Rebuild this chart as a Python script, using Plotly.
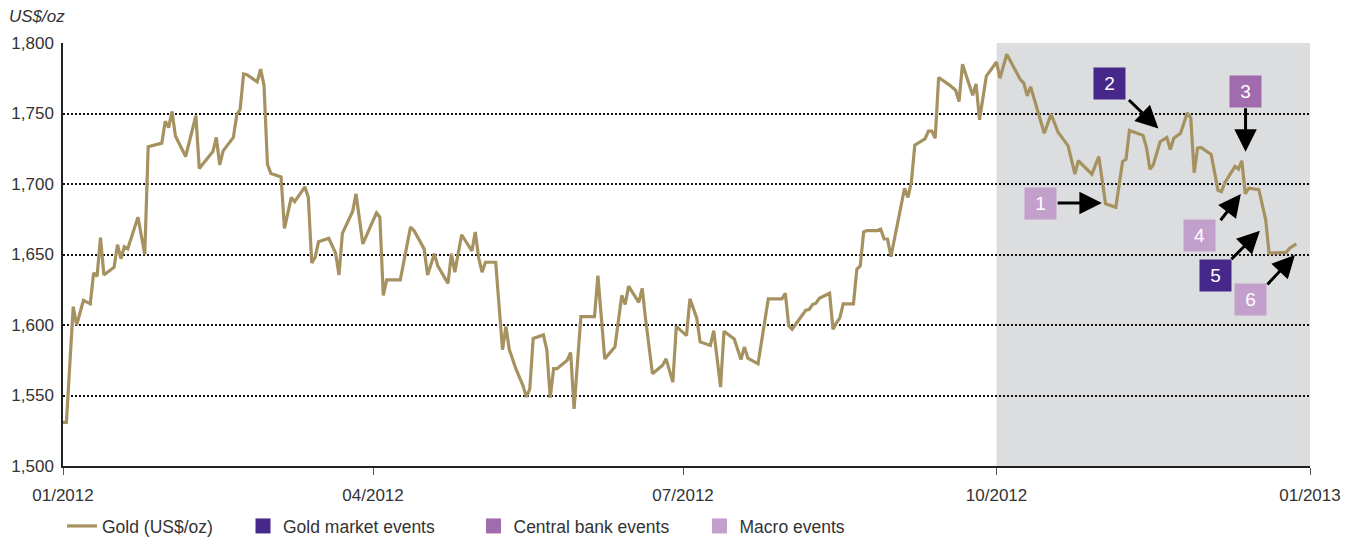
import plotly.graph_objects as go

# ---------------- data ----------------
dates = [
    "2012-01-01", "2012-01-02", "2012-01-04", "2012-01-05", "2012-01-07", "2012-01-09", "2012-01-10",
    "2012-01-11", "2012-01-12", "2012-01-13", "2012-01-16", "2012-01-17", "2012-01-18", "2012-01-19",
    "2012-01-20", "2012-01-23", "2012-01-25", "2012-01-26", "2012-01-30", "2012-01-31", "2012-02-01",
    "2012-02-02", "2012-02-03", "2012-02-06", "2012-02-09", "2012-02-10", "2012-02-14", "2012-02-15",
    "2012-02-16", "2012-02-17", "2012-02-20", "2012-02-21", "2012-02-22", "2012-02-23", "2012-02-24",
    "2012-02-27", "2012-02-28", "2012-02-29", "2012-03-01", "2012-03-02", "2012-03-05", "2012-03-06",
    "2012-03-08", "2012-03-09", "2012-03-12", "2012-03-13", "2012-03-14", "2012-03-15", "2012-03-16",
    "2012-03-19", "2012-03-21", "2012-03-22", "2012-03-23", "2012-03-26", "2012-03-27", "2012-03-29",
    "2012-04-02", "2012-04-03", "2012-04-04", "2012-04-05", "2012-04-09", "2012-04-10", "2012-04-12",
    "2012-04-13", "2012-04-16", "2012-04-17", "2012-04-19", "2012-04-20", "2012-04-23", "2012-04-24",
    "2012-04-25", "2012-04-27", "2012-04-30", "2012-05-01", "2012-05-02", "2012-05-03", "2012-05-04",
    "2012-05-07", "2012-05-09", "2012-05-10", "2012-05-11", "2012-05-13", "2012-05-15", "2012-05-16",
    "2012-05-17", "2012-05-18", "2012-05-21", "2012-05-22", "2012-05-23", "2012-05-24", "2012-05-25",
    "2012-05-28", "2012-05-29", "2012-05-30", "2012-06-01", "2012-06-05", "2012-06-06", "2012-06-08",
    "2012-06-11", "2012-06-13", "2012-06-14", "2012-06-15", "2012-06-18", "2012-06-19", "2012-06-20",
    "2012-06-22", "2012-06-25", "2012-06-26", "2012-06-28", "2012-06-29", "2012-07-02", "2012-07-03",
    "2012-07-05", "2012-07-06", "2012-07-09", "2012-07-10", "2012-07-12", "2012-07-13", "2012-07-16",
    "2012-07-18", "2012-07-19", "2012-07-20", "2012-07-23", "2012-07-26", "2012-07-30", "2012-07-31",
    "2012-08-01", "2012-08-02", "2012-08-04", "2012-08-06", "2012-08-07", "2012-08-08", "2012-08-09",
    "2012-08-10", "2012-08-13", "2012-08-14", "2012-08-15", "2012-08-16", "2012-08-17", "2012-08-20",
    "2012-08-21", "2012-08-22", "2012-08-23", "2012-08-24", "2012-08-27", "2012-08-28", "2012-08-29",
    "2012-08-30", "2012-08-31", "2012-09-02", "2012-09-04", "2012-09-05", "2012-09-06", "2012-09-07",
    "2012-09-08", "2012-09-10", "2012-09-11", "2012-09-12", "2012-09-13", "2012-09-14", "2012-09-17",
    "2012-09-19", "2012-09-20", "2012-09-21", "2012-09-24", "2012-09-25", "2012-09-26", "2012-09-27",
    "2012-09-28", "2012-10-01", "2012-10-02", "2012-10-04", "2012-10-08", "2012-10-09", "2012-10-10",
    "2012-10-11", "2012-10-15", "2012-10-17", "2012-10-19", "2012-10-22", "2012-10-24", "2012-10-25",
    "2012-10-29", "2012-10-31", "2012-11-02", "2012-11-05", "2012-11-07", "2012-11-08", "2012-11-09",
    "2012-11-13", "2012-11-14", "2012-11-15", "2012-11-16", "2012-11-18", "2012-11-20", "2012-11-21",
    "2012-11-22", "2012-11-24", "2012-11-26", "2012-11-27", "2012-11-28", "2012-11-29", "2012-11-30",
    "2012-12-03", "2012-12-05", "2012-12-06", "2012-12-07", "2012-12-10", "2012-12-11", "2012-12-12",
    "2012-12-13", "2012-12-14", "2012-12-17", "2012-12-19", "2012-12-20", "2012-12-25", "2012-12-26",
    "2012-12-28",
]

gold = [
    1531, 1531, 1613, 1600, 1617.5, 1615, 1637,
    1634.5, 1662, 1635.5, 1641, 1657, 1647, 1655.5,
    1654, 1676.5, 1650, 1726.5, 1729, 1744.5, 1740,
    1751.5, 1734, 1719.5, 1748.5, 1711, 1723, 1733,
    1713.5, 1723.5, 1733, 1749, 1753, 1778, 1777.5,
    1772.5, 1781.5, 1770, 1714, 1707.5, 1705, 1668.5,
    1690.5, 1687.5, 1698, 1690.5, 1644, 1648, 1659,
    1661.5, 1651, 1635.5, 1665, 1680.5, 1693, 1657.5,
    1679.5, 1676.5, 1621, 1632, 1632, 1644, 1669.5,
    1667, 1654, 1635.5, 1650.5, 1642, 1629.5, 1650.5,
    1637.5, 1664, 1652.5, 1666, 1647.5, 1637.5, 1644.5,
    1644.5, 1582.5, 1599, 1582.5, 1568.5, 1557, 1549,
    1554.5, 1590.5, 1593, 1582.5, 1548.5, 1569, 1569,
    1575, 1580.5, 1540.5, 1606, 1606, 1635, 1576,
    1584.5, 1621, 1614.5, 1627.5, 1616, 1626, 1604,
    1565.5, 1571.5, 1576, 1559.5, 1599, 1592.5, 1618.5,
    1605, 1588, 1585.5, 1596, 1556, 1595.5, 1590,
    1575.5, 1584.5, 1576.5, 1572.5, 1618.5, 1618.5, 1622.5,
    1599.5, 1597, 1604, 1610.5, 1611, 1614.5, 1615.5,
    1619, 1622.5, 1597, 1601.5, 1605, 1615, 1615,
    1639.5, 1642, 1666, 1667, 1667, 1668, 1661,
    1661, 1648.5, 1673.5, 1697, 1690.5, 1701.5, 1727.5,
    1729, 1732, 1737.5, 1737.5, 1732.5, 1775.5, 1770.5,
    1766.5, 1758.5, 1785, 1763, 1771, 1745.5, 1763,
    1776.5, 1786.5, 1775, 1792, 1774, 1771.5, 1762.5,
    1769, 1736, 1749.5, 1737, 1727, 1707, 1716.5,
    1707, 1719.5, 1686, 1683.5, 1716, 1717.5, 1738,
    1734.5, 1726, 1710.5, 1713.5, 1730, 1733, 1724.5,
    1732.5, 1736, 1750.5, 1747, 1708, 1725.5, 1726,
    1721, 1695.5, 1694.5, 1701, 1712.5, 1710.5, 1716.5,
    1693, 1697, 1696, 1674.5, 1651, 1651.5, 1654.5,
    1657.5,
]

# highlighted period (Q4 2012)
shade_start = "2012-10-01"
shade_end = "2013-01-01"

# events: label, type, box position, arrow tail, arrow head
event_labels = ["1", "2", "3", "4", "5", "6"]
event_types = ["Macro events", "Gold market events", "Central bank events",
               "Macro events", "Gold market events", "Macro events"]
event_box_x = ["2012-10-13 22:00", "2012-11-03 05:00", "2012-12-13 00:00",
               "2012-11-29 14:00", "2012-12-04 05:00", "2012-12-14 12:00"]
event_box_y = [1686.5, 1771, 1765.6, 1663.6, 1635.3, 1618.1]
arrow_tail_x = ["2012-10-18 12:00", "2012-11-08 10:00", "2012-12-13 02:00",
                "2012-12-05 10:00", "2012-12-08 12:00", "2012-12-19 02:00"]
arrow_tail_y = [1686.5, 1760.6, 1754.7, 1673.2, 1645.6, 1627.7]
arrow_head_x = ["2012-10-31 22:00", "2012-11-17 12:00", "2012-12-13 02:00",
                "2012-12-11 17:00", "2012-12-17 07:00", "2012-12-27 14:00"]
arrow_head_y = [1686.5, 1739.4, 1722.8, 1692.9, 1666.9, 1649.6]

legend_types = ["Gold market events", "Central bank events", "Macro events"]
type_colors = {"Gold market events": "#46288A",
               "Central bank events": "#A06CAD",
               "Macro events": "#C3A0CC"}

y_ticks = [1500, 1550, 1600, 1650, 1700, 1750, 1800]
y_ticktext = ["1,500", "1,550", "1,600", "1,650", "1,700", "1,750", "1,800"]

GOLD = "#A69260"
FONT = "Liberation Sans, Arial, Helvetica, sans-serif"
TXT = "#333333"

# ---------------- figure ----------------
fig = go.Figure()

fig.add_trace(go.Scatter(
    x=dates, y=gold, mode="lines", name="Gold (US$/oz)",
    line=dict(color=GOLD, width=3.2),
    legendwidth=136,
))

lw = {"Gold market events": 185.5, "Central bank events": 181, "Macro events": 120}
for t in legend_types:
    fig.add_trace(go.Scatter(
        x=[None], y=[None], mode="markers", name=t,
        marker=dict(symbol="square", size=15, color=type_colors[t], line=dict(width=0)),
        legendwidth=lw[t],
    ))

fig.add_shape(type="rect", xref="x", yref="paper",
              x0=shade_start, x1=shade_end, y0=0, y1=1,
              fillcolor="#DCDDDF", line=dict(width=0), layer="below")

# arrows
for i in range(len(event_labels)):
    fig.add_annotation(
        x=arrow_head_x[i], y=arrow_head_y[i], ax=arrow_tail_x[i], ay=arrow_tail_y[i],
        xref="x", yref="y", axref="x", ayref="y",
        text="", showarrow=True, arrowhead=2, arrowsize=1.5, arrowwidth=3,
        arrowcolor="#000000", standoff=0, startstandoff=0,
    )
# boxes
for i in range(len(event_labels)):
    fig.add_annotation(
        x=event_box_x[i], y=event_box_y[i], xref="x", yref="y",
        text=event_labels[i], showarrow=False,
        bgcolor=type_colors[event_types[i]], width=30, height=30, borderpad=0.5,
        font=dict(family=FONT, size=19, color="#FFFFFF"),
        xanchor="center", yanchor="middle", align="center", valign="middle",
    )

fig.add_annotation(
    x=-0.045, y=1.0615, xref="paper", yref="paper",
    text="<i>US$/oz</i>", showarrow=False, xanchor="left", yanchor="middle",
    font=dict(family=FONT, size=17, color=TXT),
)

fig.update_layout(
    width=1360, height=539,
    margin=dict(l=55, r=58, t=35, b=81, autoexpand=False),
    paper_bgcolor="#FFFFFF", plot_bgcolor="#FFFFFF",
    font=dict(family=FONT, size=17, color=TXT),
    showlegend=True,
    legend=dict(orientation="h", x=-0.0008, xanchor="left", y=-0.142, yanchor="middle",
                font=dict(family=FONT, size=17.5, color=TXT),
                itemsizing="trace", tracegroupgap=0, bgcolor="rgba(0,0,0,0)"),
    xaxis=dict(
        type="date", range=["2012-01-01", "2013-01-01"],
        dtick="M3", tick0="2012-01-01", tickformat="%m/%Y",
        showgrid=False, zeroline=False,
        showline=True, linecolor="#222222", linewidth=1.5,
        ticks="outside", ticklen=7, tickcolor="#555555", tickwidth=1,
        tickfont=dict(family=FONT, size=17, color=TXT),
        ticklabelstandoff=6, automargin=False,
    ),
    yaxis=dict(
        range=[1500, 1800], tickvals=y_ticks, ticktext=y_ticktext,
        showgrid=True, gridcolor="#111111", gridwidth=2, griddash="2px,2px",
        zeroline=False, showline=True, linecolor="#222222", linewidth=1.5,
        ticks="", tickfont=dict(family=FONT, size=17, color=TXT),
        ticklabelstandoff=4, automargin=False,
    ),
)

fig.write_html("out.html")
